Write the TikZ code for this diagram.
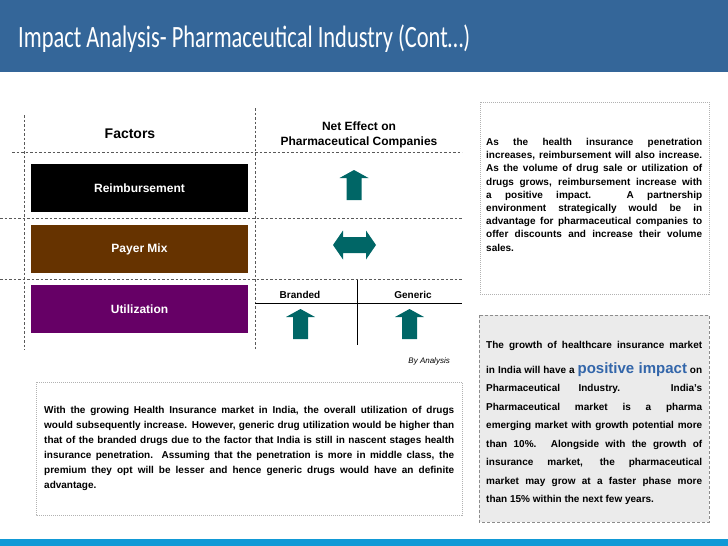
\documentclass[tikz,border=0pt]{standalone}
\usepackage{fontspec}
\setmainfont{Liberation Sans}
\newfontfamily\titlefont{Carlito}
\usepackage{graphicx}
\definecolor{titleblue}{RGB}{52,102,153}
\definecolor{barblue}{RGB}{17,153,214}
\definecolor{arrowteal}{RGB}{0,102,102}
\definecolor{payerbrown}{RGB}{102,51,0}
\definecolor{utilpurple}{RGB}{102,0,102}
\definecolor{boxgray}{RGB}{235,235,235}
\definecolor{posblue}{RGB}{51,102,170}
\newcommand{\jl}[2]{\makebox[#1][s]{#2}}
\newcommand{\tealup}[2]{\fill[arrowteal, shift={(#1,#2)}] (0,0) -- (14.5,8) -- (7.5,8) -- (7.5,30) -- (-7.5,30) -- (-7.5,8) -- (-14.5,8) -- cycle;}
\begin{document}
\begin{tikzpicture}[x=1pt,y=-1pt,
  tabdash/.style={draw=black!65, line width=0.6pt, dash pattern=on 2.5pt off 2pt},
  dotbox/.style={draw=black!30, line width=0.6pt, dash pattern=on 1pt off 1pt},
  factorbox/.style={minimum width=217pt, minimum height=48pt, inner sep=0pt, text=white, font=\fontsize{12}{12}\selectfont\bfseries},
  head/.style={inner sep=0pt, font=\fontsize{12}{15}\selectfont\bfseries, align=center},
  para/.style={inner sep=0pt, anchor=base west, align=left}]
\useasboundingbox (0,0) rectangle (728,546);
% title bar
\fill[titleblue] (0,0) rectangle (728,72);
\node[anchor=base west, inner sep=0pt, text=white] (title) at (18,47)
  {\titlefont\fontsize{31}{31}\selectfont\resizebox{452pt}{\height}{Impact Analysis- Pharmaceutical Industry (Cont…)}};
% bottom bar
\fill[barblue] (0,539) rectangle (728,546);
% table grid
\draw[tabdash] (24,115) -- (24,350);
\draw[tabdash] (255,108) -- (255,350);
\draw[tabdash] (12,152) -- (462,152);
\draw[tabdash] (0,218) -- (462,218);
\draw[tabdash] (0,279) -- (462,279);
% headers
\node[head, font=\fontsize{14}{14}\selectfont\bfseries] (factors) at (130,134) {Factors};
\node[head] (neteffect) at (359,134.5) {Net Effect on\\Pharmaceutical Companies};
% factor boxes
\node[factorbox, fill=black] (reimb) at (139.5,188) {Reimbursement};
\node[factorbox, fill=payerbrown] (payer) at (139.5,249) {Payer Mix};
\node[factorbox, fill=utilpurple] (util) at (139.5,309) {Utilization};
% arrows
\tealup{354}{170}
\fill[arrowteal] (333,245) -- (343,230.5) -- (343,237) -- (366,237) -- (366,230.5) -- (376,245) -- (366,259.5) -- (366,253) -- (343,253) -- (343,259.5) -- cycle;
\draw[black, line width=0.9pt] (357,280) -- (357,345);
\draw[black, line width=0.9pt] (255,303) -- (462,303);
\node[inner sep=0pt, font=\fontsize{10}{10}\selectfont\bfseries] (branded) at (300,295) {Branded};
\node[inner sep=0pt, font=\fontsize{10}{10}\selectfont\bfseries] (generic) at (413,295) {Generic};
\tealup{300.5}{309}
\tealup{409.5}{309}
\node[inner sep=0pt, anchor=east, font=\fontsize{8}{8}\selectfont\itshape] (byanalysis) at (450,361.5) {By Analysis};
% top right box
\draw[dotbox] (480,102) rectangle (709,294);
\node[para, font=\fontsize{10}{13.2}\selectfont\bfseries] (txtA) at (486,251.1) {%
\jl{216pt}{As the health insurance penetration}\\
\jl{216pt}{increases, reimbursement will also increase.}\\
\jl{216pt}{As the volume of drug sale or utilization of}\\
\jl{216pt}{drugs grows, reimbursement increase with}\\
\jl{216pt}{a positive impact. A partnership}\\
\jl{216pt}{environment strategically would be in}\\
\jl{216pt}{advantage for pharmaceutical companies to}\\
\jl{216pt}{offer discounts and increase their volume}\\
sales.};
% bottom right box
\filldraw[fill=boxgray, draw=black!45, line width=0.6pt, dash pattern=on 3pt off 2pt] (479,315) rectangle (709,522);
\node[para, font=\fontsize{10}{18.5}\selectfont\bfseries] (txtB) at (486,502.5) {%
\jl{216pt}{The growth of healthcare insurance market}\\[6.5pt]
\jl{216pt}{in India will have a {\color{posblue}\fontsize{15}{15}\selectfont positive impact} on}\\
\jl{216pt}{Pharmaceutical Industry. India's}\\
\jl{216pt}{Pharmaceutical market is a pharma}\\
\jl{216pt}{emerging market with growth potential more}\\
\jl{216pt}{than 10\%. Alongside with the growth of}\\
\jl{216pt}{insurance market, the pharmaceutical}\\
\jl{216pt}{market may grow at a faster phase more}\\
than 15\% within the next few years.};
% bottom left box
\draw[dotbox] (36,382) rectangle (462,515);
\node[para, font=\fontsize{10}{15}\selectfont\bfseries] (txtC) at (44,488) {%
\jl{410pt}{With the growing Health Insurance market in India, the overall utilization of drugs}\\
\jl{410pt}{would subsequently increase. However, generic drug utilization would be higher than}\\
\jl{410pt}{that of the branded drugs due to the factor that India is still in nascent stages health}\\
\jl{410pt}{insurance penetration. Assuming that the penetration is more in middle class, the}\\
\jl{410pt}{premium they opt will be lesser and hence generic drugs would have an definite}\\
advantage.};
\end{tikzpicture}
\end{document}
